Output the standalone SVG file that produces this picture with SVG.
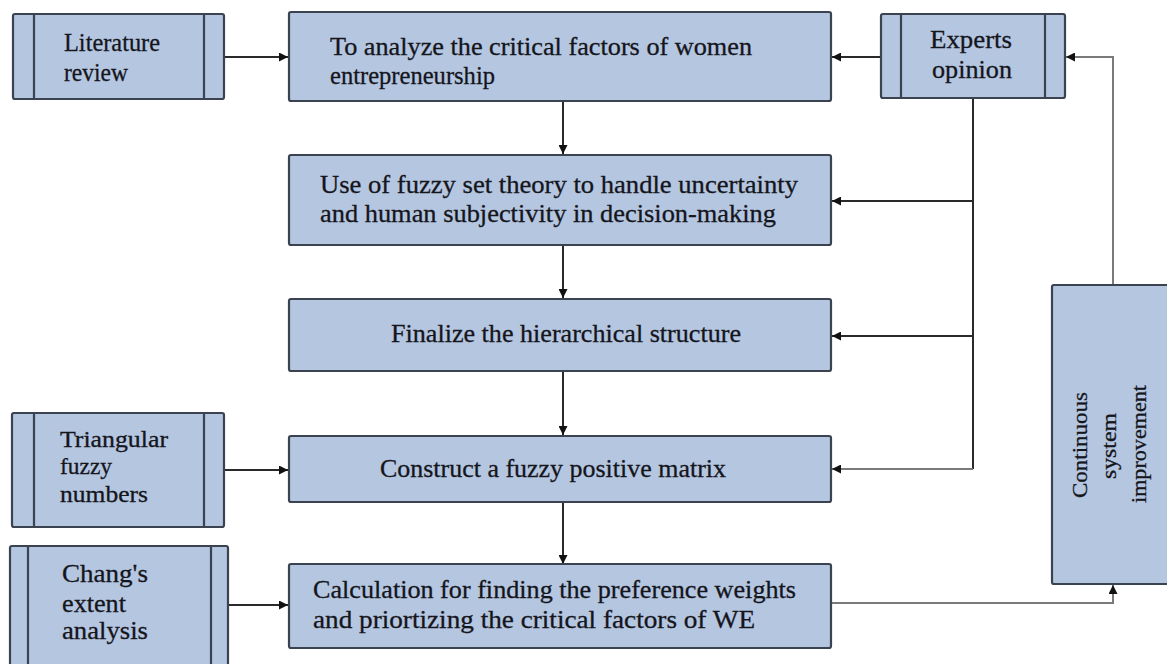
<svg xmlns="http://www.w3.org/2000/svg" width="1167" height="664" viewBox="0 0 1167 664">
<style>
.box{fill:#b4c6e0;stroke:#3b4250;stroke-width:2.2}
.bar{stroke:#3b4250;stroke-width:2.2;fill:none}
text{font-family:'Liberation Serif','DejaVu Serif',serif;font-size:26px;fill:#15151c;stroke:#15151c;stroke-width:0.3}
.c{stroke:#2a2a2a;stroke-width:2;fill:none}
.g{stroke:#7a7a7a;stroke-width:2;fill:none}
</style>
<defs>
<marker id="ah" viewBox="0 0 10 10" refX="10" refY="5" markerWidth="9" markerHeight="9" markerUnits="userSpaceOnUse" orient="auto">
<path d="M0,0 L10,5 L0,10 z" fill="#111"/>
</marker>
</defs>
<rect width="1167" height="664" fill="#ffffff"/>
<g id="connectors">
<line class="c" x1="224" y1="57" x2="288" y2="57" marker-end="url(#ah)"/>
<line class="c" x1="881" y1="57" x2="832" y2="57" marker-end="url(#ah)"/>
<line class="c" x1="563" y1="101" x2="563" y2="154" marker-end="url(#ah)"/>
<line class="c" x1="563" y1="245" x2="563" y2="298" marker-end="url(#ah)"/>
<line class="c" x1="563" y1="371" x2="563" y2="435" marker-end="url(#ah)"/>
<line class="c" x1="563" y1="502" x2="563" y2="564" marker-end="url(#ah)"/>
<polyline class="c" points="973,98 973,469"/>
<line class="c" x1="973" y1="201" x2="832" y2="201" marker-end="url(#ah)"/>
<line class="c" x1="973" y1="336" x2="832" y2="336" marker-end="url(#ah)"/>
<line class="g" x1="973" y1="469" x2="832" y2="469" marker-end="url(#ah)"/>
<line class="c" x1="224" y1="470" x2="288" y2="470" marker-end="url(#ah)"/>
<line class="c" x1="229" y1="605" x2="288" y2="605" marker-end="url(#ah)"/>
<polyline class="g" points="831,603 1113,603 1113,585" marker-end="url(#ah)"/>
<polyline class="g" points="1113,285 1113,57 1066,57" marker-end="url(#ah)"/>
</g>
<g id="literature">
<rect class="box" x="13" y="14" width="211" height="85" rx="2"/>
<line class="bar" x1="34" y1="14" x2="34" y2="99"/>
<line class="bar" x1="204" y1="14" x2="204" y2="99"/>
<text font-family="Liberation Serif, serif" x="64" y="51" textLength="96" lengthAdjust="spacingAndGlyphs">Literature</text>
<text font-family="Liberation Serif, serif" x="64" y="81" textLength="64" lengthAdjust="spacingAndGlyphs">review</text>
</g>
<g id="analyze">
<rect class="box" x="289" y="12" width="542" height="89" rx="2"/>
<text font-family="Liberation Serif, serif" x="330" y="55" textLength="422" lengthAdjust="spacingAndGlyphs">To analyze the critical factors of women</text>
<text font-family="Liberation Serif, serif" x="330" y="84" textLength="165" lengthAdjust="spacingAndGlyphs">entrepreneurship</text>
</g>
<g id="experts">
<rect class="box" x="881" y="14" width="184" height="84" rx="2"/>
<line class="bar" x1="901" y1="14" x2="901" y2="98"/>
<line class="bar" x1="1045" y1="14" x2="1045" y2="98"/>
<text font-family="Liberation Serif, serif" x="930" y="48" textLength="82" lengthAdjust="spacingAndGlyphs">Experts</text>
<text font-family="Liberation Serif, serif" x="932" y="78" textLength="80" lengthAdjust="spacingAndGlyphs">opinion</text>
</g>
<g id="fuzzyset">
<rect class="box" x="289" y="155" width="542" height="90" rx="2"/>
<text font-family="Liberation Serif, serif" x="320" y="193" textLength="478" lengthAdjust="spacingAndGlyphs">Use of fuzzy set theory to handle uncertainty</text>
<text font-family="Liberation Serif, serif" x="320" y="222" textLength="456" lengthAdjust="spacingAndGlyphs">and human subjectivity in decision-making</text>
</g>
<g id="hierarchy">
<rect class="box" x="289" y="299" width="542" height="72" rx="2"/>
<text font-family="Liberation Serif, serif" x="391" y="342" textLength="350" lengthAdjust="spacingAndGlyphs">Finalize the hierarchical structure</text>
</g>
<g id="triangular">
<rect class="box" x="12" y="413" width="212" height="114" rx="2"/>
<line class="bar" x1="34" y1="413" x2="34" y2="527"/>
<line class="bar" x1="204" y1="413" x2="204" y2="527"/>
<text font-family="Liberation Serif, serif" font-size="24" style="font-size:24px" x="60" y="447" textLength="108" lengthAdjust="spacingAndGlyphs">Triangular</text>
<text font-family="Liberation Serif, serif" font-size="24" style="font-size:24px" x="60" y="474" textLength="52" lengthAdjust="spacingAndGlyphs">fuzzy</text>
<text font-family="Liberation Serif, serif" font-size="24" style="font-size:24px" x="60" y="502" textLength="88" lengthAdjust="spacingAndGlyphs">numbers</text>
</g>
<g id="matrix">
<rect class="box" x="289" y="436" width="542" height="66" rx="2"/>
<text font-family="Liberation Serif, serif" x="380" y="477" textLength="346" lengthAdjust="spacingAndGlyphs">Construct a fuzzy positive matrix</text>
</g>
<g id="chang">
<rect class="box" x="10" y="546" width="218" height="130" rx="2"/>
<line class="bar" x1="28" y1="546" x2="28" y2="676"/>
<line class="bar" x1="211" y1="546" x2="211" y2="676"/>
<text font-family="Liberation Serif, serif" x="62" y="582" textLength="86" lengthAdjust="spacingAndGlyphs">Chang's</text>
<text font-family="Liberation Serif, serif" x="62" y="612" textLength="64" lengthAdjust="spacingAndGlyphs">extent</text>
<text font-family="Liberation Serif, serif" x="62" y="639" textLength="86" lengthAdjust="spacingAndGlyphs">analysis</text>
</g>
<g id="calculation">
<rect class="box" x="289" y="564" width="542" height="84" rx="2"/>
<text font-family="Liberation Serif, serif" x="313" y="598" textLength="483" lengthAdjust="spacingAndGlyphs">Calculation for finding the preference weights</text>
<text font-family="Liberation Serif, serif" x="313" y="628" textLength="442" lengthAdjust="spacingAndGlyphs">and priortizing the critical factors of WE</text>
</g>
<g id="continuous">
<rect class="box" x="1052" y="285" width="130" height="299" rx="2"/>
<text font-family="Liberation Serif, serif" text-anchor="middle" font-size="22" style="font-size:22px" transform="translate(1087,445) rotate(-90)" textLength="106" lengthAdjust="spacingAndGlyphs">Continuous</text>
<text font-family="Liberation Serif, serif" text-anchor="middle" font-size="22" style="font-size:22px" transform="translate(1116,446) rotate(-90)" textLength="66" lengthAdjust="spacingAndGlyphs">system</text>
<text font-family="Liberation Serif, serif" text-anchor="middle" font-size="22" style="font-size:22px" transform="translate(1146,444) rotate(-90)" textLength="118" lengthAdjust="spacingAndGlyphs">improvement</text>
</g>
</svg>
